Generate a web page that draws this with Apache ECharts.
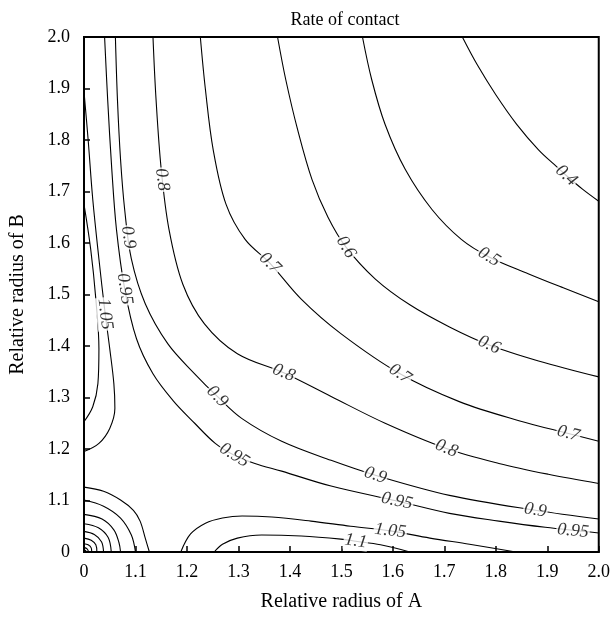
<!DOCTYPE html>
<html><head><meta charset="utf-8">
<script src="https://cdn.jsdelivr.net/npm/echarts@6/dist/echarts.min.js"></script>
<style>html,body{margin:0;padding:0;background:#fff}#c{width:613px;height:617px}</style>
</head><body><div id="c"></div>
<script>
// Tick labels (the axis origin 1.0 is printed as "0" in the original)
const xTickLabels = ['0','1.1','1.2','1.3','1.4','1.5','1.6','1.7','1.8','1.9','2.0'];
const yTickLabels = ['0','1.1','1.2','1.3','1.4','1.5','1.6','1.7','1.8','1.9','2.0'];

// Contour lines, points [relative radius of A, relative radius of B]
const c040 = [[1.735,2.0],[1.764,1.946],[1.800,1.888],[1.841,1.830],[1.883,1.781],[1.914,1.752],[1.937,1.731],[1.969,1.704],[2.0,1.681]];
const c050 = [[1.541,2.0],[1.559,1.917],[1.585,1.830],[1.624,1.743],[1.676,1.665],[1.733,1.607],[1.787,1.573],[1.864,1.540],[1.931,1.513],[2.0,1.486]];
const c060 = [[1.376,2.0],[1.392,1.917],[1.415,1.820],[1.443,1.723],[1.474,1.650],[1.509,1.592],[1.566,1.530],[1.633,1.480],[1.710,1.437],[1.787,1.402],[1.883,1.371],[2.0,1.340]];
const c070 = [[1.226,2.0],[1.236,1.897],[1.251,1.781],[1.276,1.675],[1.313,1.607],[1.361,1.561],[1.422,1.491],[1.499,1.424],[1.614,1.346],[1.729,1.292],[1.845,1.255],[1.941,1.230],[2.0,1.215]];
const c080 = [[1.134,2.0],[1.140,1.878],[1.150,1.743],[1.165,1.627],[1.192,1.520],[1.234,1.443],[1.298,1.385],[1.388,1.348],[1.480,1.302],[1.585,1.250],[1.704,1.201],[1.806,1.172],[1.902,1.151],[2.0,1.133]];
const c090 = [[1.061,2.0],[1.065,1.878],[1.071,1.762],[1.079,1.665],[1.092,1.569],[1.119,1.482],[1.163,1.404],[1.215,1.346],[1.259,1.302],[1.307,1.259],[1.384,1.215],[1.480,1.178],[1.566,1.149],[1.710,1.110],[1.877,1.081],[2.0,1.064]];
const c095 = [[1.040,2.0],[1.046,1.878],[1.054,1.743],[1.063,1.627],[1.079,1.511],[1.102,1.414],[1.134,1.346],[1.173,1.294],[1.215,1.250],[1.255,1.211],[1.292,1.188],[1.332,1.172],[1.384,1.157],[1.480,1.128],[1.608,1.099],[1.710,1.075],[1.806,1.060],[1.896,1.048],[2.0,1.037]];
const c105left = [[1.0,1.894],[1.008,1.801],[1.017,1.685],[1.029,1.569],[1.040,1.472],[1.050,1.395],[1.058,1.327],[1.060,1.279],[1.050,1.240],[1.029,1.211],[1.0,1.195]];
const c105bottom = [[1.188,1.0],[1.207,1.035],[1.236,1.056],[1.269,1.066],[1.307,1.070],[1.365,1.068],[1.441,1.060],[1.518,1.050],[1.595,1.041],[1.672,1.027],[1.749,1.015],[1.839,1.0]];
const c110left = [[1.0,1.675],[1.013,1.588],[1.023,1.491],[1.029,1.395],[1.027,1.327],[1.017,1.282],[1.0,1.253]];
const c110bottom = [[1.253,1.0],[1.269,1.015],[1.298,1.027],[1.345,1.033],[1.422,1.031],[1.499,1.025],[1.528,1.021],[1.576,1.014],[1.633,1.0]];
// Unlabelled contours around the origin
const arc1 = [[1.0,1.126],[1.038,1.118],[1.071,1.101],[1.096,1.081],[1.109,1.060],[1.119,1.027],[1.127,1.0]];
const arc2 = [[1.0,1.101],[1.038,1.089],[1.071,1.066],[1.092,1.033],[1.100,1.0]];
const arc3 = [[1.0,1.073],[1.035,1.064],[1.058,1.043],[1.068,1.018],[1.071,1.0]];
const arc4 = [[1.0,1.055],[1.028,1.047],[1.047,1.028],[1.053,1.0]];
const arc5 = [[1.0,1.040],[1.020,1.034],[1.034,1.020],[1.038,1.0]];
const arc6 = [[1.0,1.027],[1.014,1.023],[1.023,1.014],[1.025,1.0]];
const arc7 = [[1.0,1.016],[1.008,1.014],[1.014,1.008],[1.015,1.0]];
const arc8 = [[1.0,1.009],[1.006,1.006],[1.009,1.0]];
const arc9 = [[1.0,1.004],[1.003,1.003],[1.004,1.0]];

const contours = [
  {level:'0.4', pts:c040},{level:'0.5', pts:c050},{level:'0.6', pts:c060},
  {level:'0.7', pts:c070},{level:'0.8', pts:c080},{level:'0.9', pts:c090},
  {level:'0.95', pts:c095},{level:'1.05', pts:c105left},{level:'1.05', pts:c105bottom},
  {level:'1.1', pts:c110left},{level:'1.1', pts:c110bottom},
  {level:'', pts:arc1},{level:'', pts:arc2},{level:'', pts:arc3},{level:'', pts:arc4},
  {level:'', pts:arc5},{level:'', pts:arc6},{level:'', pts:arc7},{level:'', pts:arc8},{level:'', pts:arc9}
];

// Contour labels: [level, A, B]
const contourLabels = [
  ['0.4',1.937,1.731],
  ['0.5',1.787,1.573],
  ['0.6',1.509,1.592],['0.6',1.787,1.402],
  ['0.7',1.361,1.561],['0.7',1.614,1.346],['0.7',1.941,1.230],
  ['0.8',1.152,1.723],['0.8',1.388,1.348],['0.8',1.704,1.201],
  ['0.9',1.086,1.611],['0.9',1.259,1.302],['0.9',1.566,1.149],['0.9',1.877,1.081],
  ['0.95',1.079,1.511],['0.95',1.292,1.188],['0.95',1.608,1.099],['0.95',1.950,1.041],
  ['1.05',1.041,1.462],['1.05',1.595,1.041],
  ['1.1',1.528,1.021]
];

const FONT = 'Liberation Serif';
const chart = echarts.init(document.getElementById('c'), null, {renderer:'canvas'});

function axisCommon(labels, name, gap, margin) {
  return {
    type:'value', min:1, max:2, interval:0.1,
    axisLine:{show:true, onZero:false, lineStyle:{color:'#000', width:2}},
    axisTick:{show:true, inside:true, length:6, lineStyle:{color:'#000', width:1.5}},
    splitLine:{show:false},
    axisLabel:{formatter:(v)=>labels[Math.round((v-1)*10)], color:'#000', fontFamily:FONT, fontSize:18, margin:margin},
    name:name, nameLocation:'middle', nameGap:gap,
    nameTextStyle:{color:'#000', fontFamily:FONT, fontSize:20}
  };
}

const lineSeries = contours.map((c,i)=>({
  type:'line', id:'c'+i, data:c.pts, showSymbol:false, symbol:'none', smooth:0.35,
  lineStyle:{color:'#000', width:1.1}, silent:true, z:2, animation:false, clip:true
}));

const option = {
  animation:false,
  backgroundColor:'#fff',
  title:{text:'Rate of contact', left:340, textAlign:'center', top:6,
    textStyle:{color:'#000', fontFamily:FONT, fontSize:18, fontWeight:'normal'}},
  grid:{left:80, right:12, top:37, bottom:63, show:true, borderColor:'#000', borderWidth:2, containLabel:false},
  xAxis:axisCommon(xTickLabels, 'Relative radius of A', 40, 11),
  yAxis:axisCommon(yTickLabels, 'Relative radius of B', 56, 14),
  series: lineSeries.concat([{
    type:'scatter', id:'labels', symbolSize:0, silent:true, z:5, animation:false,
    data: contourLabels.map(l=>({value:[l[1],l[2]], name:l[0]})),
    label:{show:true, formatter:'{b}', position:'inside', color:'#000', fontFamily:FONT,
      fontStyle:'italic', fontSize:18, backgroundColor:'#fff', padding:[0,1]}
  }])
};
chart.setOption(option);

function segDist(p, a, b) {
  const dx=b[0]-a[0], dy=b[1]-a[1];
  const L=dx*dx+dy*dy;
  let t = L>0 ? ((p[0]-a[0])*dx+(p[1]-a[1])*dy)/L : 0;
  t=Math.max(0,Math.min(1,t));
  const x=a[0]+t*dx, y=a[1]+t*dy;
  return Math.hypot(p[0]-x,p[1]-y);
}
const labelData = contourLabels.map(([lv,x,y])=>{
  const p = chart.convertToPixel({gridIndex:0},[x,y]);
  let best=null, bd=Infinity;
  contours.filter(c=>c.level===lv).forEach(c=>{
    const px = c.pts.map(q=>chart.convertToPixel({gridIndex:0},q));
    for (let i=0;i<px.length-1;i++){
      const d=segDist(p,px[i],px[i+1]);
      if(d<bd){bd=d;best=[px[i],px[i+1]];}
    }
  });
  let ang = Math.atan2(best[1][1]-best[0][1], best[1][0]-best[0][0])*180/Math.PI;
  if (ang>90) ang-=180;
  if (ang<-90) ang+=180;
  return {value:[x,y], name:lv, label:{rotate:-ang}};
});
chart.setOption({series:[{id:'labels', data:labelData}]});
</script>
</body></html>
